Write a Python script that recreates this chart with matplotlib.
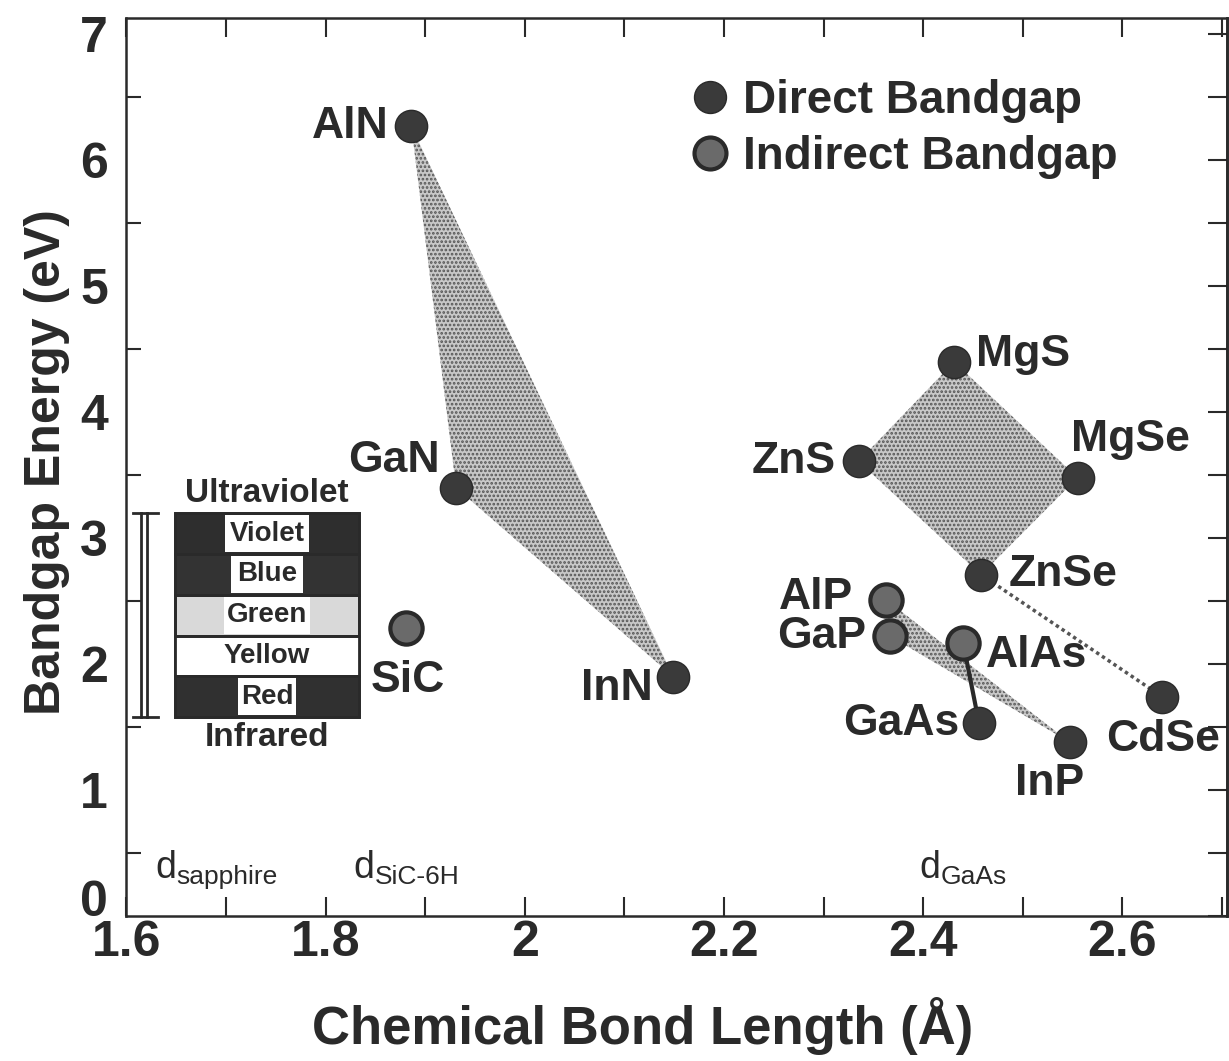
import matplotlib
matplotlib.use("Agg")
import matplotlib.pyplot as plt
from matplotlib.ticker import MultipleLocator, FuncFormatter
from matplotlib.lines import Line2D

plt.rcParams['font.family'] = ['Liberation Sans', 'DejaVu Sans']
plt.rcParams['font.weight'] = 'bold'
plt.rcParams['hatch.linewidth'] = 1.3
plt.rcParams['hatch.color'] = '#555555'

ink = '#2a2a2a'

# compounds: bond length (A), bandgap (eV), direct or not
names = ['AlN', 'GaN', 'SiC', 'InN', 'MgS', 'ZnS', 'MgSe', 'ZnSe',
         'AlP', 'GaP', 'AlAs', 'GaAs', 'InP', 'CdSe']
bond = [1.886, 1.931, 1.881, 2.149, 2.431, 2.335, 2.555, 2.458,
        2.363, 2.367, 2.440, 2.456, 2.547, 2.640]
gap = [6.27, 3.40, 2.29, 1.90, 4.40, 3.61, 3.48, 2.71,
       2.51, 2.22, 2.17, 1.53, 1.38, 1.74]
direct = [True, True, False, True, True, True, True, True,
          False, False, False, True, True, True]

# label placement (offset in pixels, alignment)
lab_dx = [-23, -16, 1, -21, 22, -23, -7, 28, -33, -24, 23, -20, -20, 1]
lab_dy = [0, 27, -53, -12, 7, 0, 38, 0, 2, 0, -13, 0, -41, -43]
lab_ha = ['right', 'right', 'center', 'right', 'left', 'right', 'left', 'left',
          'right', 'right', 'left', 'right', 'center', 'center']

# visible spectrum inset
bands = ['Violet', 'Blue', 'Green', 'Yellow', 'Red']
band_side = ['#2e2e2e', '#333333', '#d9d9d9', 'white', '#303030']
band_white = [0.084, 0.073, 0.086, 0.184, 0.058]
band_top = 3.198
band_bottom = 1.579
band_left = 1.649
band_right = 1.833

# substrate markers at the bottom
subs = ['sapphire', 'SiC-6H', 'GaAs']
subs_x = [1.629, 1.828, 2.396]

pos = {n: (bx, g) for n, bx, g in zip(names, bond, gap)}

fig = plt.figure(figsize=(12.29, 10.61), dpi=100)
ax = fig.add_axes([0.1025, 0.1367, 0.8959, 0.8463])

# alloy regions
def poly(members):
    return [pos[m][0] for m in members], [pos[m][1] for m in members]

for grp in [['AlN', 'GaN', 'InN'], ['ZnS', 'MgS', 'MgSe', 'ZnSe'], ['AlP', 'GaP', 'InP']]:
    xs, ys = poly(grp)
    ax.fill(xs, ys, facecolor='#c8c8c8', edgecolor='#555555', hatch='....',
            linewidth=0, zorder=1)

xs, ys = poly(['ZnSe', 'CdSe'])
ax.plot(xs, ys, color='#555555', lw=2.5, ls=(0, (1, 1)), zorder=1)
xs, ys = poly(['AlAs', 'GaAs'])
ax.plot(xs, ys, color=ink, lw=3, zorder=1)

dx = [b for b, d in zip(bond, direct) if d]
dy = [g for g, d in zip(gap, direct) if d]
ix = [b for b, d in zip(bond, direct) if not d]
iy = [g for g, d in zip(gap, direct) if not d]
ax.scatter(dx, dy, s=540, c='#3a3a3a', edgecolors='#2a2a2a', linewidths=1, zorder=5)
ax.scatter(ix, iy, s=540, c='#6a6a6a', edgecolors='#2a2a2a', linewidths=3, zorder=5)

for n, bx, g, ox, oy, ha in zip(names, bond, gap, lab_dx, lab_dy, lab_ha):
    ax.annotate(n, (bx, g), xytext=(ox, oy), textcoords='offset pixels',
                ha=ha, va='center', fontsize=32, color=ink, zorder=6)

# spectrum inset
h = (band_top - band_bottom) / len(bands)
centers = [band_top - h * (i + 0.5) for i in range(len(bands))]
mid = (band_left + band_right) / 2
ax.barh(centers, band_right - band_left, height=h, left=band_left,
        color=band_side, edgecolor=ink, linewidth=2, zorder=2)
ax.barh(centers, band_white, height=h * 0.92, left=[mid - w / 2 for w in band_white],
        color='white', linewidth=0, zorder=3)
ax.barh(centers, band_right - band_left, height=h, left=band_left,
        color='none', edgecolor=ink, linewidth=2, zorder=4)
for c, b in zip(centers, bands):
    ax.text(mid, c, b, ha='center', va='center', fontsize=20, color=ink, zorder=5)
ax.text(mid, band_top + 0.16, 'Ultraviolet', ha='center', va='center', fontsize=24, color=ink)
ax.text(mid, band_bottom - 0.16, 'Infrared', ha='center', va='center', fontsize=24, color=ink)

# bracket for the visible range
for bxl in [1.615, 1.621]:
    ax.plot([bxl, bxl], [band_bottom, band_top], color=ink, lw=2)
for yy in [band_bottom, band_top]:
    ax.plot([1.607, 1.632], [yy, yy], color=ink, lw=2)

for s, sx in zip(subs, subs_x):
    ax.text(sx, 0.38, 'd', fontsize=27, fontweight='normal', va='center', color=ink)
    ax.annotate(s, (sx, 0.38), xytext=(21, -9), textcoords='offset pixels',
                fontsize=19, fontweight='normal', va='center', color=ink)

handles = [Line2D([], [], marker='o', ls='', markersize=23, markerfacecolor='#3a3a3a',
                  markeredgecolor='#2a2a2a', markeredgewidth=1),
           Line2D([], [], marker='o', ls='', markersize=23, markerfacecolor='#6a6a6a',
                  markeredgecolor='#2a2a2a', markeredgewidth=3)]
ax.legend(handles, ['Direct Bandgap', 'Indirect Bandgap'], loc='upper left',
          bbox_to_anchor=(0.510, 0.932), frameon=False, fontsize=33, labelcolor=ink,
          handlelength=1.0, handletextpad=0.2, labelspacing=0.25, borderpad=0,
          borderaxespad=0)

ax.set_xlim(1.5995, 2.705)
ax.set_ylim(0, 7.13)

ax.xaxis.set_major_locator(MultipleLocator(0.2))
ax.xaxis.set_minor_locator(MultipleLocator(0.1))
ax.xaxis.set_major_formatter(FuncFormatter(lambda v, p: f'{v:g}'))
ax.tick_params(axis='x', which='both', direction='in', top=True, bottom=True,
               length=14, width=1.5, labelsize=36, pad=3, colors=ink)
ax.set_yticks(range(8))
ax.yaxis.set_minor_locator(MultipleLocator(0.5))
ax.tick_params(axis='y', which='major', length=0, labelsize=36, pad=13, colors=ink)
ax.tick_params(axis='y', which='minor', direction='in', length=11, width=1.5, colors=ink)
# the "0" sits a little above the corner
ax.yaxis.get_major_ticks()[0].label1.set_verticalalignment('baseline')

sec = ax.secondary_yaxis('right')
sec.yaxis.set_major_locator(MultipleLocator(0.5))
sec.tick_params(direction='in', length=14, width=1.5, labelright=False, colors=ink)

for sp in ax.spines.values():
    sp.set_linewidth(1.8)
    sp.set_color(ink)
sec.spines['right'].set_linewidth(1.8)

ax.set_xlabel('Chemical Bond Length (Å)', fontsize=38, fontweight='bold', color=ink)
ax.set_ylabel('Bandgap Energy (eV)', fontsize=36, fontweight='bold', color=ink)
ax.xaxis.set_label_coords(0.469, -0.090)
ax.yaxis.set_label_coords(-0.051, 0.506)

fig.savefig('out.png', dpi=100)
